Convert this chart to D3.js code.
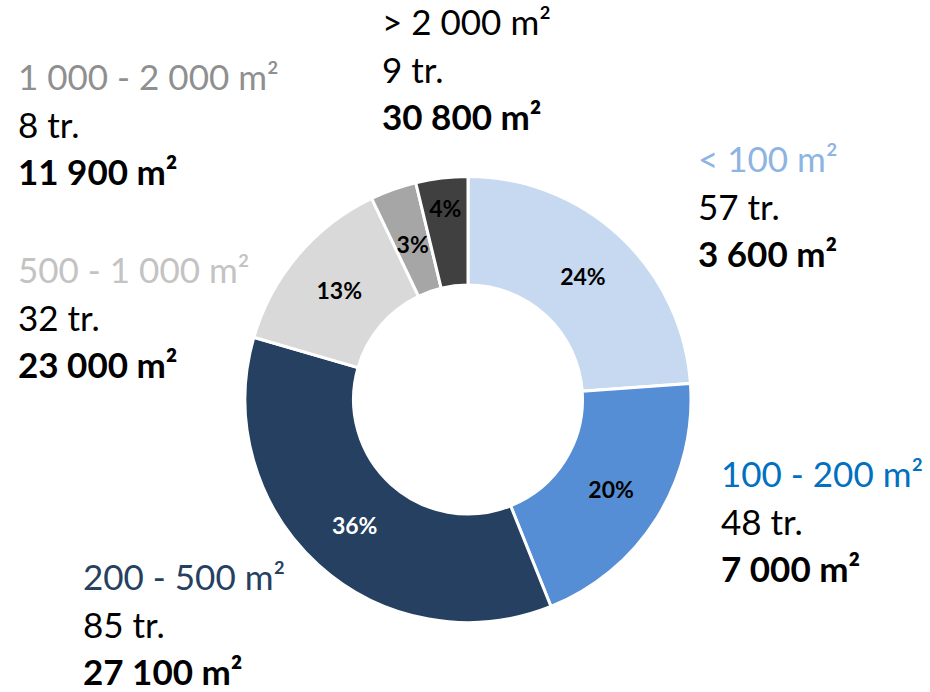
<!DOCTYPE html>
<html>
<head>
<meta charset="utf-8">
<script src="https://cdn.jsdelivr.net/npm/d3@7"></script>
<style>
  html, body { margin: 0; padding: 0; background: #fff; }
  svg { display: block; }
</style>
</head>
<body>
<svg id="chart"></svg>
<script>
// ── Data ────────────────────────────────────────────────────────────────
const categories = ['< 100 m²', '100 - 200 m²', '200 - 500 m²', '500 - 1 000 m²', '1 000 - 2 000 m²', '> 2 000 m²'];
const counts     = [57, 48, 85, 32, 8, 9];          // number of transactions ("tr.")
const areas      = [3600, 7000, 27100, 23000, 11900, 30800]; // m²

// ── Styles / layout ─────────────────────────────────────────────────────
const W = 930, H = 692;
const CX = 468, CY = 399.5;
const R_OUT = 223, R_IN = 114.5;
const FONT = 'Lato, "Open Sans", sans-serif';

const SLICE_FILL  = ['#c6d9f1', '#558ed5', '#254061', '#d9d9d9', '#a6a6a6', '#404040'];
const TITLE_FILL  = ['#8db4e2', '#0070c0', '#254061', '#c3c3c3', '#8f8f8f', '#000000'];
const PCT_FILL    = ['#000', '#000', '#fff', '#000', '#000', '#000'];
// radius of the percent label (small slices are nudged like in the original)
const PCT_R       = [168.75, 168.75, 168.75, 168.75, 165, 193];

// left x and first baseline of each outer label block
const LABEL_POS = [
  { x: 698, y: 172 },
  { x: 721, y: 487 },
  { x: 83,  y: 590 },
  { x: 18,  y: 283 },
  { x: 18,  y: 90 },
  { x: 382, y: 35 },
];
const LINE_H = 47.5;

const fmt = d3.formatLocale({ decimal: ',', thousands: ' ', grouping: [3], currency: ['', ''] }).format(',');

const svg = d3.select('#chart').attr('width', W).attr('height', H);
const g = svg.append('g').attr('transform', `translate(${CX},${CY})`);

const total = d3.sum(counts);
const pie = d3.pie().sort(null).value(d => d)(counts);
const arc = d3.arc().innerRadius(R_IN).outerRadius(R_OUT);

g.selectAll('path.slice')
  .data(pie)
  .enter()
  .append('path')
  .attr('class', 'slice')
  .attr('d', arc)
  .attr('fill', (d, i) => SLICE_FILL[i])
  .attr('stroke', '#fff')
  .attr('stroke-width', 3)
  .attr('stroke-linejoin', 'miter');

// Percent labels inside the ring
g.selectAll('text.pct')
  .data(pie)
  .enter()
  .append('text')
  .attr('class', 'pct')
  .attr('transform', (d, i) => {
    const a = (d.startAngle + d.endAngle) / 2;
    return `translate(${PCT_R[i] * Math.sin(a)},${-PCT_R[i] * Math.cos(a)})`;
  })
  .attr('text-anchor', 'middle')
  .attr('dominant-baseline', 'central')
  .attr('font-family', FONT)
  .attr('font-weight', 700)
  .attr('font-size', '23px')
  .attr('fill', (d, i) => PCT_FILL[i])
  .text(d => Math.round(d.value / total * 100) + '%');

// Outer label blocks: category, count, area
const blocks = svg.selectAll('g.lbl')
  .data(categories)
  .enter()
  .append('g')
  .attr('class', 'lbl')
  .attr('transform', (d, i) => `translate(${LABEL_POS[i].x},${LABEL_POS[i].y})`)
  .attr('font-family', FONT)
  .attr('font-size', '35px');

blocks.append('text')
  .attr('fill', (d, i) => TITLE_FILL[i])
  .text(d => d);

blocks.append('text')
  .attr('y', LINE_H)
  .attr('fill', '#000')
  .text((d, i) => counts[i] + ' tr.');

blocks.append('text')
  .attr('y', LINE_H * 2)
  .attr('fill', '#000')
  .attr('font-weight', 700)
  .text((d, i) => fmt(areas[i]) + ' m²');
</script>
</body>
</html>
